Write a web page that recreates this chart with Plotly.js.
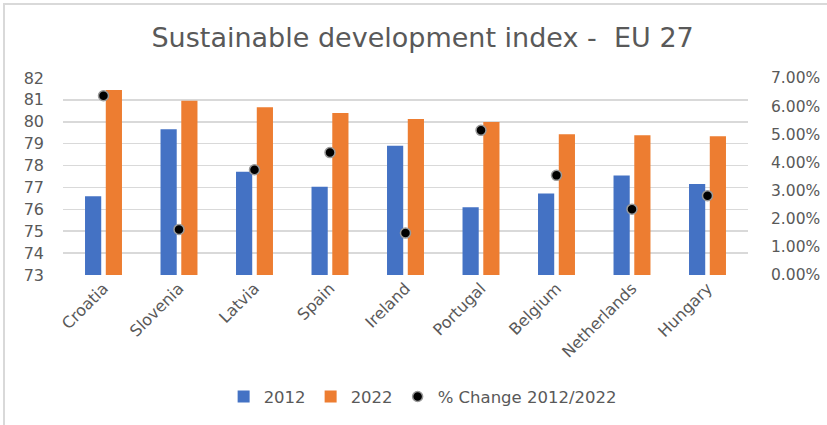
<!DOCTYPE html>
<html>
<head>
<meta charset="utf-8">
<script src="https://cdn.plot.ly/plotly-3.0.1.min.js"></script>
<style>
  html, body { margin: 0; padding: 0; background: #ffffff; }
  #wrap { position: relative; width: 827px; height: 425px; overflow: hidden; }
  #chart { position: absolute; left: 0; top: 0; width: 827px; height: 425px; }
  .bl { position: absolute; left: 3px; top: 3px; width: 2px; height: 425px; background: #d9d9d9; }
  .bt { position: absolute; left: 3px; top: 3px; width: 827px; height: 2px; background: #d9d9d9; }
</style>
</head>
<body>
<div id="wrap">
  <div id="chart"></div>
  <div class="bl"></div>
  <div class="bt"></div>
</div>
<script>
const countries = ["Croatia", "Slovenia", "Latvia", "Spain", "Ireland", "Portugal", "Belgium", "Netherlands", "Hungary"];
const values2012 = [76.6, 79.66, 77.72, 77.03, 78.9, 76.1, 76.72, 77.55, 77.16];
const values2022 = [81.45, 80.96, 80.66, 80.4, 80.13, 79.99, 79.43, 79.39, 79.34];
const pctChange = [0.0637, 0.0162, 0.0374, 0.0435, 0.0149, 0.0514, 0.0354, 0.0234, 0.0282];

const gray = "#595959";
const FONT = "DejaVu Sans, sans-serif";

const traces = [
  { type: "bar", name: "2012", x: countries, y: values2012,
    marker: { color: "#4472C4" }, hoverinfo: "skip" },
  { type: "bar", name: "2022", x: countries, y: values2022,
    marker: { color: "#ED7D31" }, hoverinfo: "skip" },
  { type: "scatter", mode: "markers", name: "% Change 2012/2022", x: countries, y: pctChange,
    yaxis: "y2",
    marker: { color: "#000000", size: 10, line: { color: "#9a9a9a", width: 1.5 } },
    hoverinfo: "skip" }
];

const layout = {
  width: 827, height: 425,
  paper_bgcolor: "#ffffff", plot_bgcolor: "#ffffff",
  margin: { l: 63, r: 79, t: 78, b: 149 },
  font: { family: FONT, color: gray, size: 14 },
  title: { text: "Sustainable development index -\u00a0 EU 27", x: 0.525, xref: "paper", y: 0.912, yref: "container",
           xanchor: "center", yanchor: "middle",
           font: { family: FONT, size: 27, color: gray } },
  barmode: "group", bargap: 0.45, bargroupgap: 0.22,
  xaxis: { type: "category", tickangle: -45, tickfont: { size: 16, color: gray, family: FONT },
           showgrid: false, zeroline: false, showline: false, ticks: "" },
  yaxis: { range: [73, 82], dtick: 1, tick0: 73, showgrid: true, gridcolor: "#d9d9d9", gridwidth: 1.5,
           zeroline: false, showline: false, ticks: "", tickfont: { size: 16, color: gray, family: FONT },
           ticklabelstandoff: 18 },
  yaxis2: { range: [0, 0.07], dtick: 0.01, tick0: 0, overlaying: "y", side: "right", tickformat: ".2%",
            showgrid: false, zeroline: false, showline: false, ticks: "",
            tickfont: { size: 15.5, color: gray, family: FONT }, ticklabelstandoff: 22 },
  showlegend: true,
  legend: { orientation: "h", x: 0.525, xanchor: "center", y: -0.61, yanchor: "middle",
            font: { size: 16.5, color: gray, family: FONT }, traceorder: "normal" }
};

Plotly.newPlot("chart", traces, layout, { staticPlot: true, displayModeBar: false });
</script>
</body>
</html>
